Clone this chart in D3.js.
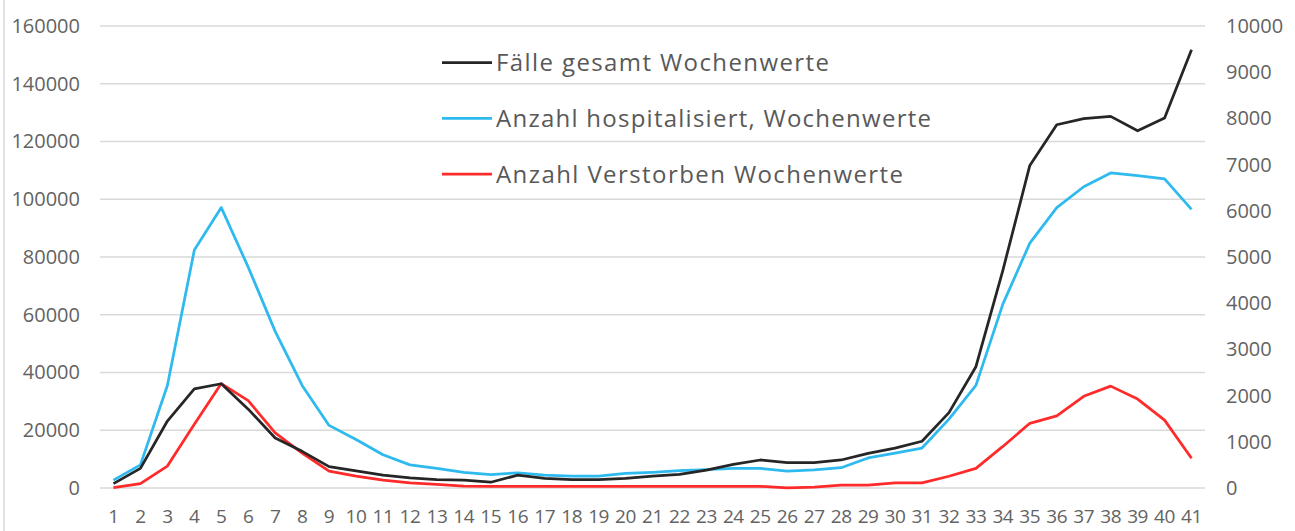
<!DOCTYPE html>
<html>
<head>
<meta charset="utf-8">
<script src="https://cdn.jsdelivr.net/npm/d3@7"></script>
<style>
  body { margin: 0; background: #fff; }
  svg { display: block; }
  .tick text { font-family: "Open Sans", sans-serif; fill: #636363; }
</style>
</head>
<body>
<div id="chart"></div>
<script>
// weeks 1..41
var weeks = d3.range(1, 42);

// Fälle gesamt (left axis)
var faelle = [1500, 6800, 23200, 34300, 36100, 27300, 17300, 12700, 7400, 5900,
              4450, 3500, 2900, 2700, 2000, 4450, 3300, 2900, 2900, 3300,
              4100, 4700, 6200, 8200, 9700, 8800, 8800, 9700, 12000, 13800,
              16200, 26100, 42000, 75400, 111700, 125800, 127900, 128700, 123700, 128100,
              151800];

// hospitalisiert (right axis)
var hosp = [170, 500, 2220, 5150, 6070, 4780, 3390, 2220, 1355, 1050,
            720, 500, 425, 340, 290, 330, 280, 255, 255, 315,
            340, 375, 400, 425, 425, 365, 390, 440, 650, 755,
            865, 1490, 2220, 3980, 5300, 6070, 6520, 6820, 6760, 6690,
            6030];

// Verstorben (right axis)
var tote = [10, 95, 475, 1380, 2260, 1890, 1195, 755, 365, 255,
            170, 110, 80, 40, 35, 35, 35, 35, 35, 35,
            35, 35, 35, 35, 35, 5, 20, 60, 60, 110,
            110, 255, 425, 900, 1400, 1560, 1985, 2205, 1925, 1470,
            645];

var leftTicks = d3.range(0, 160001, 20000);
var rightTicks = d3.range(0, 10001, 1000);

var seriesNames = ["Fälle gesamt Wochenwerte", "Anzahl hospitalisiert, Wochenwerte", "Anzahl Verstorben Wochenwerte"];
var seriesColors = ["#262626", "#2ebaee", "#ff2a2a"];
var legendWidths = [333, 435, 407];

var width = 1295, height = 531;
var svg = d3.select("#chart").append("svg")
    .attr("width", width)
    .attr("height", height);

// left border of chart area
svg.append("line")
    .attr("x1", 4).attr("x2", 4).attr("y1", 0).attr("y2", height)
    .attr("stroke", "#d9d9d9").attr("stroke-width", 1.5);

var x = d3.scaleBand().domain(weeks).range([100, 1205]);
var yL = d3.scaleLinear().domain([0, 160000]).range([488, 26]);
var yR = d3.scaleLinear().domain([0, 10000]).range([488, 26]);

// gridlines
svg.append("g").selectAll("line")
    .data(leftTicks)
    .enter().append("line")
    .attr("x1", 100).attr("x2", 1205)
    .attr("y1", d => yL(d)).attr("y2", d => yL(d))
    .attr("stroke", "#d9d9d9").attr("stroke-width", 1.5);

// axes
var axL = svg.append("g")
    .attr("transform", "translate(80,0)")
    .call(d3.axisLeft(yL).tickValues(leftTicks).tickSize(0).tickPadding(0).tickFormat(d3.format("d")));
var axR = svg.append("g")
    .attr("transform", "translate(1226,0)")
    .call(d3.axisRight(yR).tickValues(rightTicks).tickSize(0).tickPadding(0).tickFormat(d3.format("d")));
var axX = svg.append("g")
    .attr("transform", "translate(0,509)")
    .call(d3.axisBottom(x).tickSize(0).tickPadding(0));
[axL, axR, axX].forEach(a => {
    a.select(".domain").remove();
    a.selectAll("text").style("font-size", "20px");
});
axX.selectAll("text").style("font-size", "19px").attr("dy", "0.71em").attr("letter-spacing", "-0.4px");

// lines
var cx = d => x(d) + x.bandwidth() / 2;
var lineL = d3.line().x((d, i) => cx(weeks[i])).y(d => yL(d));
var lineR = d3.line().x((d, i) => cx(weeks[i])).y(d => yR(d));

svg.append("path").datum(tote)
    .attr("d", lineR).attr("fill", "none")
    .attr("stroke", seriesColors[2]).attr("stroke-width", 2.75).attr("stroke-linejoin", "round");
svg.append("path").datum(hosp)
    .attr("d", lineR).attr("fill", "none")
    .attr("stroke", seriesColors[1]).attr("stroke-width", 2.75).attr("stroke-linejoin", "round");
svg.append("path").datum(faelle)
    .attr("d", lineL).attr("fill", "none")
    .attr("stroke", seriesColors[0]).attr("stroke-width", 2.75).attr("stroke-linejoin", "round");

// legend
var legend = svg.append("g").attr("transform", "translate(442,62.5)");
seriesNames.forEach((name, i) => {
    var g = legend.append("g").attr("transform", "translate(0," + (i * 55.8) + ")");
    g.append("rect").attr("x", 0).attr("y", -6).attr("width", 52).attr("height", 12).attr("fill", "#fff");
    g.append("line").attr("x1", 0).attr("x2", 50).attr("y1", 0).attr("y2", 0)
        .attr("stroke", seriesColors[i]).attr("stroke-width", 2.75);
    g.append("text").attr("x", 54).attr("y", 0).attr("dy", "0.35em")
        .attr("font-family", "Open Sans, sans-serif").attr("font-size", "24px")
        .attr("textLength", legendWidths[i]).attr("lengthAdjust", "spacing")
        .attr("fill", "#595959").text(name);
});
</script>
</body>
</html>
